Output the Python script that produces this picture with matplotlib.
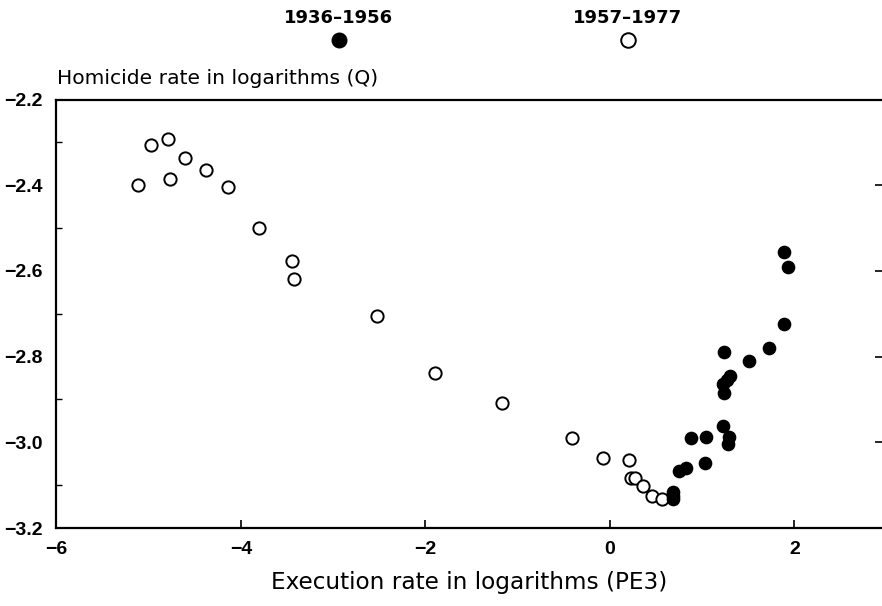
import matplotlib.pyplot as plt
from matplotlib.ticker import MultipleLocator

plt.rcParams['font.family'] = ['DejaVu Sans']

# 1957-1977 (open circles)
late_x = [-5.12, -4.97, -4.79, -4.77, -4.61, -4.38, -4.14, -3.80, -3.45, -3.42,
          -2.52, -1.90, -1.17, -0.41, -0.08, 0.21, 0.23, 0.27, 0.36, 0.455, 0.56]
late_y = [-2.400, -2.306, -2.293, -2.386, -2.336, -2.365, -2.405, -2.500, -2.577, -2.620,
          -2.706, -2.839, -2.909, -2.989, -3.037, -3.042, -3.084, -3.084, -3.101, -3.126, -3.133]

# 1936-1956 (filled circles)
early_x = [0.68, 0.68, 0.68, 0.75, 0.82, 0.88, 1.04, 1.03, 1.225, 1.29, 1.28,
           1.24, 1.30, 1.27, 1.23, 1.24, 1.51, 1.725, 1.89, 1.89, 1.93]
early_y = [-3.115, -3.125, -3.133, -3.067, -3.059, -2.989, -2.987, -3.049, -2.961, -2.988, -3.003,
           -2.790, -2.845, -2.855, -2.865, -2.884, -2.811, -2.781, -2.725, -2.556, -2.591]

x_ticks = [-6, -4, -2, 0, 2]
y_ticks = [-3.2, -3.0, -2.8, -2.6, -2.4, -2.2]
x_tick_labels = ['\u22126', '\u22124', '\u22122', '0', '2']
y_tick_labels = ['\u22123.2', '\u22123.0', '\u22122.8', '\u22122.6', '\u22122.4', '\u22122.2']

fig = plt.figure(figsize=(8.82, 6.06), dpi=100)
ax = fig.add_axes([0.064, 0.1287, 0.936, 0.7071])

ax.scatter(late_x, late_y, s=78, facecolors='white', edgecolors='black', linewidths=1.4, zorder=3)
ax.scatter(early_x, early_y, s=78, facecolors='black', edgecolors='black', linewidths=1.0, zorder=4)

ax.set_xlim(-6, 2.95)
ax.set_ylim(-3.2, -2.2)
ax.set_xticks(x_ticks)
ax.set_xticklabels(x_tick_labels)
ax.set_yticks(y_ticks)
ax.set_yticklabels(y_tick_labels)
ax.yaxis.set_minor_locator(MultipleLocator(0.1))

for side in ['left', 'bottom', 'top']:
    ax.spines[side].set_linewidth(1.6)
ax.spines['right'].set_visible(False)

ax.tick_params(axis='x', direction='in', length=6, width=1.2, labelsize=14, pad=9)
ax.tick_params(axis='y', which='major', direction='in', length=0, labelsize=14, pad=10,
               right=True, labelright=False)
ax.tick_params(axis='y', which='minor', direction='in', length=4, width=1.0, right=False)
# tick numbers in a narrower bold face
for lab in ax.get_xticklabels() + ax.get_yticklabels():
    lab.set_fontfamily(['Liberation Sans', 'DejaVu Sans'])
    lab.set_fontweight('bold')
# short ticks on the right edge at the inner majors
for t in ax.yaxis.get_major_ticks():
    t.tick2line.set_markersize(5)
    t.tick2line.set_markeredgewidth(1.2)
ax.yaxis.get_major_ticks()[0].tick2line.set_visible(False)
ax.yaxis.get_major_ticks()[-1].tick2line.set_visible(False)

ax.set_xlabel('Execution rate in logarithms (PE3)', fontsize=16.7, labelpad=10)
fig.text(0.065, 0.871, 'Homicide rate in logarithms (Q)', fontsize=14.6, ha='left', va='center')

# legend on top
fig.text(0.384, 0.970, '1936\u20131956', fontsize=13, fontweight='bold', ha='center', va='center')
fig.text(0.712, 0.970, '1957\u20131977', fontsize=13, fontweight='bold', ha='center', va='center')
ax.scatter([0.384], [0.934], s=110, facecolors='black', edgecolors='black',
           transform=fig.transFigure, clip_on=False)
ax.scatter([0.712], [0.934], s=110, facecolors='white', edgecolors='black', linewidths=1.4,
           transform=fig.transFigure, clip_on=False)

fig.savefig('out.png', dpi=100, facecolor='white')
